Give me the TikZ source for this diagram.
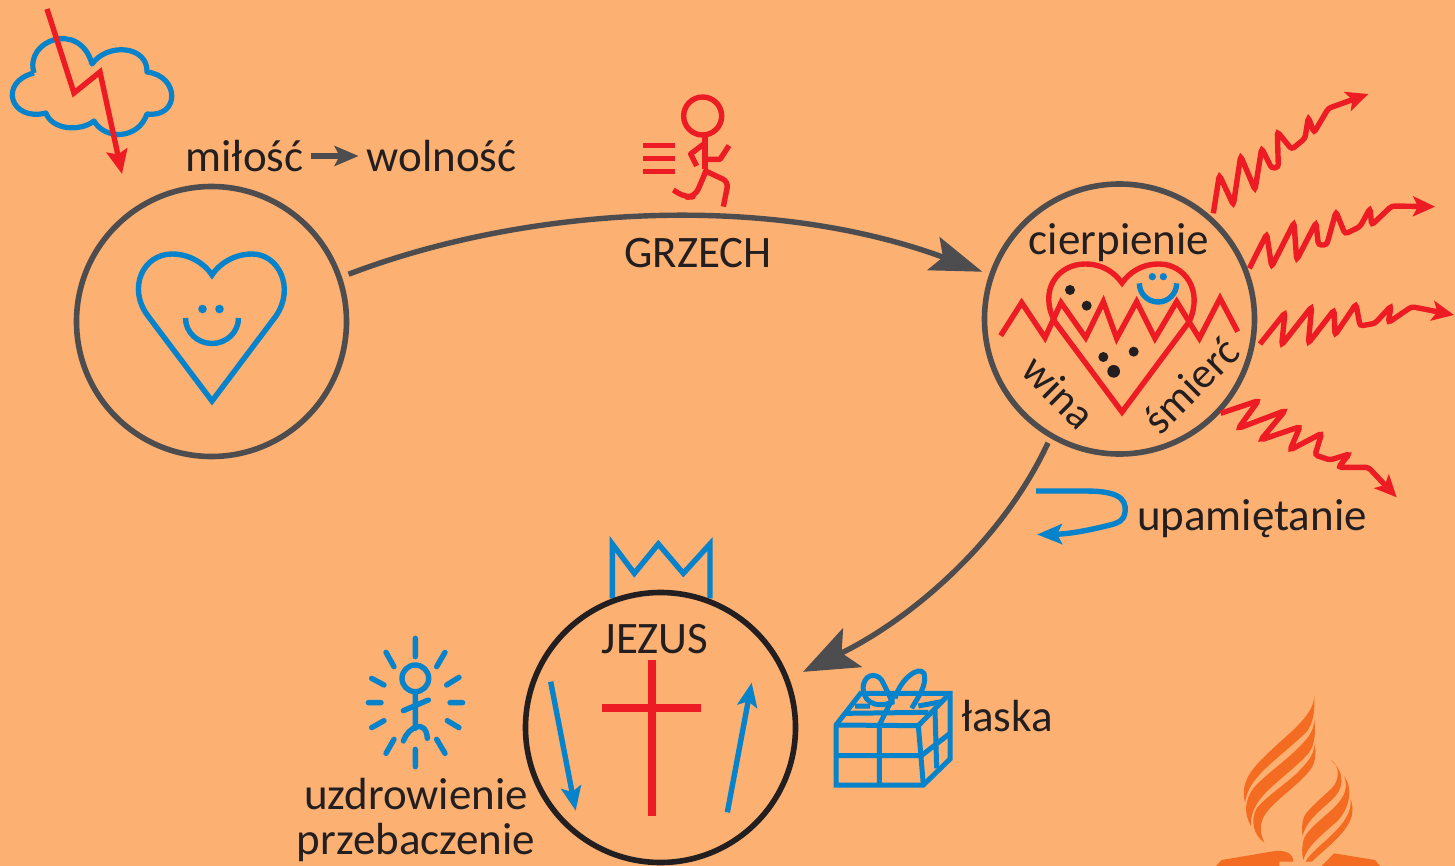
\documentclass[tikz,border=0pt]{standalone}
\usepackage{fontspec}
\setmainfont{Carlito}
\usetikzlibrary{arrows.meta,calc}
\definecolor{bg}{RGB}{252,176,114}
\definecolor{redc}{RGB}{237,28,36}
\definecolor{bluec}{RGB}{6,131,203}
\definecolor{grayc}{RGB}{77,77,79}
\definecolor{ink}{RGB}{35,31,32}
\definecolor{logoc}{RGB}{243,108,33}
\tikzset{
 x=0.5pt,y=-0.5pt,
 ringnode/.style={circle,draw=grayc,line width=2.8pt,minimum size=135pt,inner sep=0pt,outer sep=4pt},
 txt/.style={font=\fontsize{22.5}{27}\selectfont,text=ink,inner sep=0pt,anchor=base},
 redl/.style={draw=redc,line width=2.7pt,line join=miter},
 bluel/.style={draw=bluec,line width=2.7pt,line join=miter},
 conn/.style={draw=grayc,line width=2.7pt},
 rayl/.style={draw=redc,line width=2.7pt,rounded corners=1.5pt,-{Stealth[length=11pt,width=10pt,inset=2.5pt]}},
 glow/.style={draw=bluec,line width=2.7pt,line cap=round},
 dot/.style={fill=ink},
}
\begin{document}
\begin{tikzpicture}
\useasboundingbox (0,0) rectangle (1455,866);
\fill[bg] (0,0) rectangle (1455,866);

% cloud
\draw[bluel,line join=round,line width=2.6pt] (34,73)
 .. controls (24,40) and (80,20) .. (92,64)
 .. controls (108,42) and (148,46) .. (147,72)
 .. controls (180,76) and (180,118) .. (147,114)
 .. controls (138,140) and (105,140) .. (94,121)
 .. controls (80,132) and (52,130) .. (46,113)
 .. controls (10,122) and (-2,82) .. (34,73);
% lightning
\draw[redl,-{Stealth[length=12pt,width=10.5pt,inset=2pt]}] (47,9) -- (74,93) -- (100,72) -- (122,174);

% rings
\node[ringnode] (love) at (211.5,321.5) {};
\node[ringnode] (pain) at (1119.5,319) {};
% crown
\begin{scope}[shift={(510,530)},scale=1/3]
\draw[bluel] (307,205) -- (307,42) -- (373,130) -- (445,42) -- (520,130) -- (600,42) -- (600,205);
\end{scope}
\node[ringnode,draw=ink] (jesus) at (660.5,727.5) {};

% left heart
\draw[bluel] (212,401) -- (148,316) .. controls (127,288) and (143,254) .. (172,254) .. controls (190,254) and (205,264) .. (212,275)
 .. controls (219,264) and (234,254) .. (252,254) .. controls (279,254) and (295,288) .. (276,316) -- cycle;
\fill[bluec] (202.5,309) circle (4.3) (219.5,309) circle (4.3);
\draw[bluel] (185.5,318) arc[start angle=180,end angle=0,x radius=26.5,y radius=25.5];

% middle heart
\draw[redl] (1122,412) -- (1055,322) .. controls (1038,290) and (1058,264) .. (1085,264) .. controls (1103,264) and (1115,273) .. (1122,283)
 .. controls (1129,273) and (1141,264) .. (1159,264) .. controls (1184,264) and (1204,290) .. (1189,322) -- cycle;
\begin{scope}[shift={(970,170)},scale=1/3]
\draw[redl] (92,497) -- (155,398) -- (225,503) -- (273,398) -- (347,503) -- (400,395) -- (440,505) -- (500,395) -- (555,505) -- (620,395) -- (688,505) -- (750,385) -- (803,485);
\fill[dot] (300,360) circle (15) (350,407) circle (15) (400,561) circle (15) (491,545) circle (15) (431,604) circle (19);
\fill[bluec] (547,320) circle (11) (580,320) circle (11);
\draw[bluel] (508,340) arc[start angle=180,end angle=0,x radius=56,y radius=56];
\end{scope}

% rays
\begin{scope}[shift={(1190,80)},scale=1/3]
\draw[rayl] (70,400) -- (88,285) -- (130,375) -- (152,228) -- (195,330) -- (215,205) -- (245,265) -- (265,262) -- (262,155) -- (305,208) -- (345,175) -- (355,112) -- (372,158) -- (415,85) -- (535,42);
\draw[rayl] (178,565) -- (230,462) -- (245,560) -- (312,428) -- (320,540) -- (378,428) -- (385,495) -- (410,495) -- (438,395) -- (465,462) -- (510,440) -- (540,385) -- (545,435) -- (605,378) -- (735,380);
\draw[rayl] (210,792) -- (285,698) -- (275,795) -- (365,680) -- (355,790) -- (432,690) -- (435,765) -- (498,672) -- (510,738) -- (555,730) -- (603,678) -- (595,728) -- (665,680) -- (792,705);
\draw[rayl] (92,1000) -- (205,962) -- (145,1045) -- (285,992) -- (212,1080) -- (330,1040) -- (300,1110) -- (395,1060) -- (375,1125) -- (420,1140) -- (478,1122) -- (445,1162) -- (535,1162) -- (620,1252);
\end{scope}

% runner
\begin{scope}[shift={(620,80)},scale=1/3]
\draw[redl] (248,108) circle (57);
\draw[redl] (255,165) -- (255,268);
\draw[redl,line join=round] (250,193) -- (212,222) -- (230,258);
\draw[redl,line join=round] (258,238) -- (300,238) -- (327,197);
\draw[redl,line join=round,rounded corners=3pt] (250,270) -- (325,305) -- (310,380);
\draw[redl,line join=round,rounded corners=4pt] (255,280) -- (225,350) -- (195,352) -- (160,330);
\draw[redl] (68,196) -- (166,196) (68,235) -- (166,235) (68,274) -- (166,274);
\end{scope}

% cross and arrows
\begin{scope}[shift={(510,530)},scale=1/3]
\draw[redc,line width=4pt] (425,391) -- (425,857) (276,535) -- (573,535);
\draw[bluel,-{Stealth[length=12pt,width=10pt,inset=2.5pt]}] (122,455) -- (197,842);
\draw[bluel,-{Stealth[length=12pt,width=10pt,inset=2.5pt]}] (652,847) -- (725,458);
\end{scope}

% glowing figure
\begin{scope}[shift={(350,620)},scale=1/3]
\draw[glow] (196,175) circle (40);
\draw[glow] (196,215) -- (196,325) (160,272) -- (235,240);
\draw[glow] (160,363) .. controls (175,320) and (228,295) .. (232,355);
\draw[glow] (196,55) -- (196,110) (108,97) -- (132,140) (285,97) -- (260,140) (65,175) -- (102,195) (327,172) -- (290,195)
 (55,248) -- (93,248) (300,248) -- (338,248) (65,323) -- (102,302) (327,323) -- (292,302) (108,400) -- (132,358) (285,400) -- (260,358) (196,388) -- (196,440);
\end{scope}

% gift
\begin{scope}[shift={(820,660)},scale=1/3]
\draw[bluel,line width=2.5pt] (48,195) -- (48,375) -- (310,375) -- (390,297) -- (390,100) -- (122,100) -- cycle;
\draw[bluel,line width=2.5pt] (48,195) -- (295,197) -- (310,375) (295,197) -- (390,100);
\draw[bluel,line width=2.5pt] (178,195) -- (178,375) (48,287) -- (304,287) -- (390,220) (345,150) -- (350,325);
\draw[bluel,line width=2.5pt] (75,160) -- (325,157) (225,100) -- (178,195) (105,138) -- (150,138) (295,138) -- (365,125);
\draw[bluel,line width=2.5pt] (222,125) .. controls (160,150) and (125,120) .. (130,75) .. controls (138,35) and (180,40) .. (190,70) .. controls (200,90) and (210,110) .. (218,130);
\draw[bluel,line width=2.5pt] (225,115) .. controls (240,60) and (295,15) .. (312,40) .. controls (322,75) and (295,110) .. (275,145);
\end{scope}

% logo
\begin{scope}[shift={(1200,680)},scale=1/3]
\fill[logoc] (343,48) .. controls (340,85) and (320,110) .. (280,150) .. controls (230,195) and (190,230) .. (165,260) .. controls (135,295) and (125,330) .. (135,368)
 .. controls (140,330) and (160,300) .. (200,262) .. controls (240,225) and (290,185) .. (320,155) .. controls (340,130) and (345,90) .. (343,48) -- cycle;
\fill[logoc] (343,120) .. controls (340,160) and (320,180) .. (280,218) .. controls (240,255) and (190,290) .. (160,325) .. controls (135,360) and (130,400) .. (153,438)
 .. controls (150,400) and (170,365) .. (200,335) .. controls (240,295) and (290,260) .. (325,220) .. controls (345,195) and (347,160) .. (343,120) -- cycle;
\fill[logoc] (345,190) .. controls (340,230) and (320,250) .. (285,285) .. controls (245,320) and (200,350) .. (170,385) .. controls (150,420) and (160,465) .. (193,488)
 .. controls (175,450) and (180,420) .. (205,390) .. controls (240,350) and (300,310) .. (330,270) .. controls (347,250) and (347,225) .. (345,190) -- cycle;
\fill[logoc] (392,240) .. controls (420,255) and (420,300) .. (395,325) .. controls (370,350) and (325,385) .. (312,410) .. controls (305,430) and (305,450) .. (308,468)
 .. controls (315,430) and (350,400) .. (395,360) .. controls (430,330) and (440,280) .. (392,240) -- cycle;
\fill[logoc] (432,288) .. controls (445,320) and (435,350) .. (405,380) .. controls (375,410) and (325,445) .. (312,475) .. controls (305,500) and (305,520) .. (310,540)
 .. controls (320,500) and (365,465) .. (410,425) .. controls (450,385) and (460,325) .. (432,288) -- cycle;
\fill[logoc] (452,358) .. controls (455,400) and (430,430) .. (395,465) .. controls (370,490) and (335,515) .. (316,545) -- (336,545)
 .. controls (360,520) and (395,495) .. (425,460) .. controls (455,425) and (465,395) .. (452,358) -- cycle;
\fill[logoc] (48,558) -- (65,540) -- (225,513) .. controls (255,510) and (280,520) .. (280,545) -- (238,545) -- (238,558) -- cycle;
\fill[logoc] (365,558) -- (402,520) -- (525,540) -- (540,558) -- cycle;
\end{scope}

% labels
\node[txt,text height=16pt,text depth=0pt,outer sep=4pt] (milosc) at (244.5,172) {miłość};
\node[txt,text height=16pt,text depth=0pt,outer sep=4pt] (wolnosc) at (441.5,172) {wolność};
\draw[draw=grayc,line width=2.6pt,-{Stealth[length=12pt,width=10pt,inset=2.5pt]}] (milosc.east) -- (wolnosc.west);
\node[txt] (grzech) at (698,267) {GRZECH};
\node[txt] (cierp) at (1119,255) {cierpienie};
\node[txt,anchor=center,rotate=-45,font=\fontsize{21.5}{26}\selectfont] (wina) at (1059,392) {wina};
\node[txt,anchor=center,rotate=45,font=\fontsize{21.5}{26}\selectfont] (smierc) at (1191,385) {śmierć};
\node[txt] (upam) at (1252,530) {upamiętanie};
\node[txt] (jez) at (655,653) {JEZUS};
\node[txt] (laska) at (1007,731) {łaska};
\node[txt] (uzd) at (416,809) {uzdrowienie};
\node[txt] (prz) at (416,854) {przebaczenie};

% main connectors
\path[conn,-{Stealth[length=26pt,width=17.5pt,inset=5pt]},shorten <=1pt,shorten >=1pt] (love.19) .. controls (530,205) and (770,193) .. (pain.161);
\path[conn,-{Stealth[length=27.5pt,width=21.5pt,inset=6pt]},shorten >=5pt] (pain.240) .. controls (1003,540) and (913,618) .. (jesus.21);
% turning arrow
\coordinate (turnA) at (1036,491);
\coordinate (turnB) at (1037,534.5);
\draw[bluel,-{Stealth[length=12.5pt,width=10pt,inset=2.5pt]}] (turnA) -- (1085,491) .. controls (1115,491) and (1127,497) .. (1125,512) .. controls (1124,521) and (1118,523) .. (1110,525) .. controls (1090,530) and (1070,534) .. (turnB);
\end{tikzpicture}
\end{document}
